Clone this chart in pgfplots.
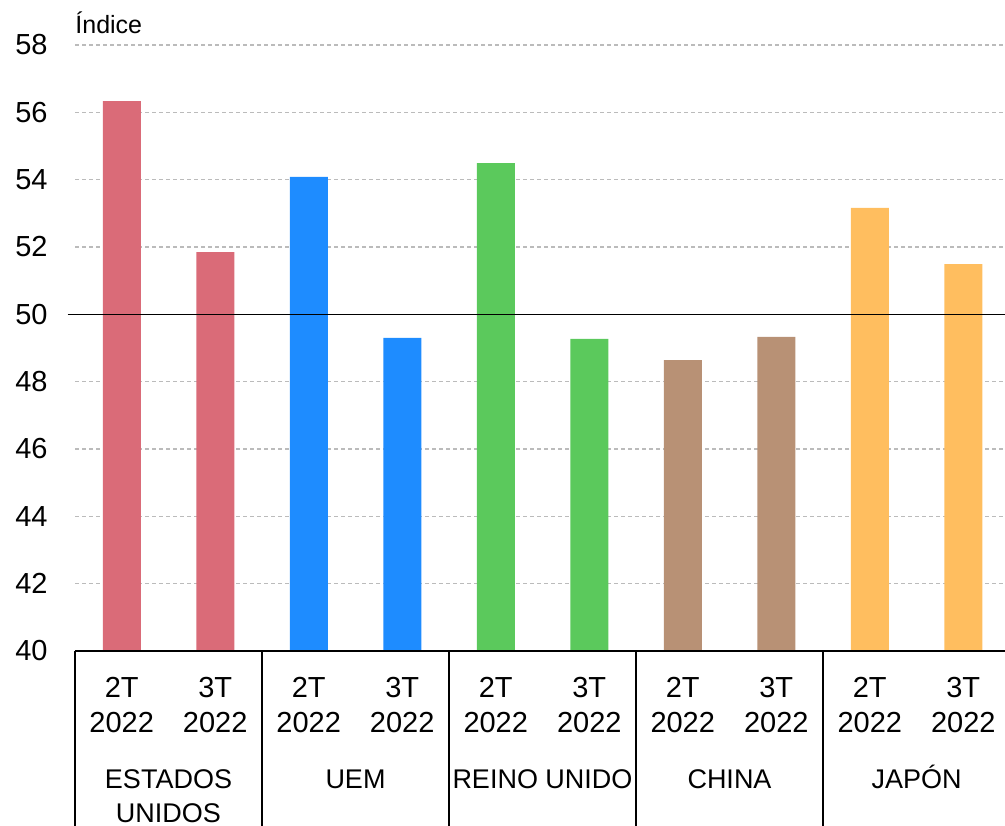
\documentclass[border=0pt]{standalone}
\usepackage{fontspec}
\setmainfont{Liberation Sans}
\usepackage{pgfplots}
\pgfplotsset{compat=1.18}

\definecolor{cUS}{HTML}{DA6B78}
\definecolor{cUEM}{HTML}{1E8CFF}
\definecolor{cUK}{HTML}{5BC95C}
\definecolor{cCN}{HTML}{B89175}
\definecolor{cJP}{HTML}{FFBE5F}
\definecolor{gridgray}{HTML}{BBBBBB}

\begin{document}
\begin{tikzpicture}
\path[use as bounding box] (-37.5pt,-87pt) rectangle (465pt,325.5pt);
\begin{axis}[
    at={(0,0)}, anchor=south west,
    scale only axis,
    width=467.5pt, height=303pt,
    xmin=-0.5, xmax=9.5,
    ymin=40, ymax=58,
    ytick={40,42,...,58},
    xtick={0,...,9},
    xticklabels={2T\\2022,3T\\2022,2T\\2022,3T\\2022,2T\\2022,3T\\2022,2T\\2022,3T\\2022,2T\\2022,3T\\2022},
    xticklabel style={align=center, anchor=north, inner sep=0pt, yshift=-13pt,
        font=\fontsize{14.5}{17.5}\selectfont},
    yticklabel style={anchor=east, inner sep=0pt, xshift=-13.5pt,
        font=\fontsize{14.5}{17.5}\selectfont},
    /pgf/number format/assume math mode=true,
    major tick length=0pt,
    axis line style={draw=none},
    ymajorgrids,
    grid style={gridgray, line width=0.75pt, dash pattern=on 2pt off 1.5pt},
    ybar, bar width=19pt, bar shift=0pt,
    clip=false,
]
\addplot[fill=cUS, draw=none] coordinates {(0,56.33) (1,51.85)};
\addplot[fill=cUEM, draw=none] coordinates {(2,54.08) (3,49.30)};
\addplot[fill=cUK, draw=none] coordinates {(4,54.49) (5,49.27)};
\addplot[fill=cCN, draw=none] coordinates {(6,48.64) (7,49.33)};
\addplot[fill=cJP, draw=none] coordinates {(8,53.16) (9,51.49)};

% reference line at 50
\draw[black, line width=0.7pt] (axis cs:-0.58,50) -- (axis cs:9.5,50);
% bottom axis line and group separators
\draw[black, line width=0.8pt] (axis cs:-0.5,40) -- (axis cs:9.5,40);
\pgfplotsinvokeforeach{-0.5,1.5,3.5,5.5,7.5,9.5}{
  \draw[black, line width=0.8pt] (axis cs:#1,40) -- ([yshift=-90pt]axis cs:#1,40);
}

% group labels
\begin{scope}[every node/.style={anchor=base, inner sep=0pt, align=center,
    font=\fontsize{13.5}{17}\selectfont}]
\node at ([yshift=-85.5pt]axis cs:0.5,40) {ESTADOS\\UNIDOS};
\node at ([yshift=-68.5pt]axis cs:2.5,40) {UEM};
\node at ([yshift=-68.5pt]axis cs:4.5,40) {REINO UNIDO};
\node at ([yshift=-68.5pt]axis cs:6.5,40) {CHINA};
\node at ([yshift=-68.5pt]axis cs:8.5,40) {JAPÓN};
\end{scope}

\node[anchor=base west, inner sep=0pt, font=\fontsize{12.5}{15}\selectfont]
  at ([yshift=6pt]axis cs:-0.5,58) {Índice};
\end{axis}
\end{tikzpicture}
\end{document}
